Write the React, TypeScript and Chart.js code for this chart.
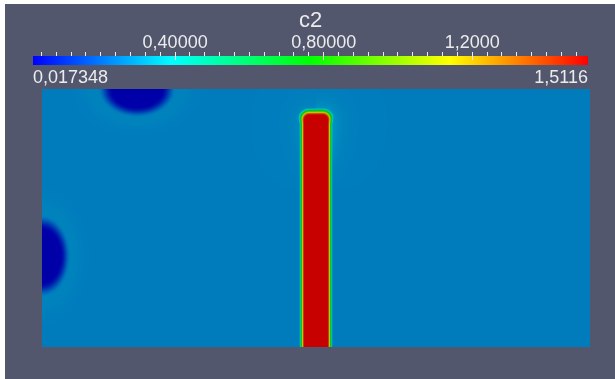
import React, { useEffect, useRef } from "react";
import { Chart, registerables } from "chart.js";

Chart.register(...registerables);

// ---------- data ----------
const TITLE = "c2";
const RANGE = [0.017348, 1.5116];
const RANGE_LABELS = ["0,017348", "1,5116"];
const MAJOR_TICKS = [0.4, 0.8, 1.2];
const MAJOR_LABELS = ["0,40000", "0,80000", "1,2000"];
const MINOR_STEP = 0.04;

// field domain (model units)
const DOMAIN_X = [0, 10.6];
const DOMAIN_Y = [0, 5];
const AMBIENT_C = 0.264;
// high-concentration column
const COLUMN_X = [5.07, 5.53];
const COLUMN_Y = [0, 4.5];
const COLUMN_C = 1.5116;
// low-concentration sinks
const SINK_X = [1.84, 0];
const SINK_Y = [5, 1.76];
const SINK_RX = [0.68, 0.5];
const SINK_RY = [0.5, 0.72];
const SINK_C = [0.017348, 0.017348];

// ---------- styles ----------
const FONT = "'Liberation Sans', Arial, sans-serif";
const TEXT = "#ececec";
const BG = "rgb(82,87,110)";

function clamp01(v: number) {
  return Math.min(1, Math.max(0, v));
}
function smooth(a: number, b: number, x: number) {
  const u = clamp01((x - a) / (b - a));
  return u * u * (3 - 2 * u);
}
function rainbow(t: number): [number, number, number] {
  t = clamp01(t);
  if (t < 0.25) return [0, 4 * t, 1];
  if (t < 0.5) return [0, 1, 1 - 4 * (t - 0.25)];
  if (t < 0.75) return [4 * (t - 0.5), 1, 0];
  return [1, 1 - 4 * (t - 0.75), 0];
}

function fieldValue(x: number, y: number) {
  let v = AMBIENT_C;
  for (let i = 0; i < SINK_X.length; i++) {
    const dx = (x - SINK_X[i]) / SINK_RX[i];
    const dy = (y - SINK_Y[i]) / SINK_RY[i];
    const r = Math.hypot(dx, dy);
    const core = 1 - smooth(0.7, 1.1, r);
    const ring = 0.012 * Math.exp(-Math.pow((r - 1.25) / 0.25, 2));
    v = v + (SINK_C[i] - AMBIENT_C) * core + ring * (1 - core);
  }
  const cx = (COLUMN_X[0] + COLUMN_X[1]) / 2;
  const hw = (COLUMN_X[1] - COLUMN_X[0]) / 2;
  const bottom = COLUMN_Y[0] - 1;
  const top = COLUMN_Y[1];
  const cy = (bottom + top) / 2;
  const hh = (top - bottom) / 2;
  const rr = 0.1;
  const qx = Math.abs(x - cx) - (hw - rr);
  const qy = Math.abs(y - cy) - (hh - rr);
  const d =
    Math.hypot(Math.max(qx, 0), Math.max(qy, 0)) +
    Math.min(Math.max(qx, qy), 0) -
    rr;
  const topness = smooth(4.3, 4.55, y);
  const s = 1 - smooth(-0.01, 0.1 + 0.04 * topness, d);
  if (d > 0) {
    const halo =
      0.08 * Math.exp(-d / 0.16) * smooth(3.0, 4.4, y) * (x > cx ? 1 : 0.5);
    v += halo;
  }
  v = v + (COLUMN_C - v) * s;
  return v;
}

const fieldPlugin = {
  id: "fieldRaster",
  beforeDatasetsDraw(chart: any) {
    const { ctx, chartArea, scales } = chart;
    const left = Math.round(chartArea.left);
    const top = Math.round(chartArea.top);
    const w = Math.round(chartArea.right) - left;
    const h = Math.round(chartArea.bottom) - top;
    const img = ctx.createImageData(w, h);
    const xs = scales.x;
    const ys = scales.y;
    const span = RANGE[1] - RANGE[0];
    for (let j = 0; j < h; j++) {
      const yv = ys.getValueForPixel(top + j + 0.5);
      for (let i = 0; i < w; i++) {
        const xv = xs.getValueForPixel(left + i + 0.5);
        const val = fieldValue(xv, yv);
        const [r, g, b] = rainbow((val - RANGE[0]) / span);
        const shade = 0.66 + 0.12 * Math.min(1, r + g);
        const k = (j * w + i) * 4;
        img.data[k] = Math.round(r * 255 * shade);
        img.data[k + 1] = Math.round(g * 255 * shade);
        img.data[k + 2] = Math.round(b * 255 * shade);
        img.data[k + 3] = 255;
      }
    }
    ctx.putImageData(img, left, top);
  },
};

const majorTickPlugin = {
  id: "majorTicks",
  afterDatasetsDraw(chart: any) {
    const { ctx, chartArea, scales } = chart;
    ctx.save();
    ctx.strokeStyle = TEXT;
    ctx.lineWidth = 1;
    MAJOR_TICKS.forEach((v) => {
      const px = Math.round(scales.x.getPixelForValue(v) - 0.5) + 0.5;
      ctx.beginPath();
      ctx.moveTo(px, chartArea.top);
      ctx.lineTo(px, chartArea.top + 4);
      ctx.stroke();
    });
    ctx.restore();
  },
};

function minorTicks() {
  const out: number[] = [];
  for (let k = 1; k * MINOR_STEP < RANGE[1]; k++) {
    const v = Math.round(k * MINOR_STEP * 1e6) / 1e6;
    if (v > RANGE[0]) out.push(v);
  }
  return out;
}

export default function App() {
  const barRef = useRef<HTMLCanvasElement>(null);
  const fieldRef = useRef<HTMLCanvasElement>(null);

  useEffect(() => {
    const tickFont = { family: FONT, size: 18, lineHeight: 1 };
    const bar = new Chart(barRef.current as HTMLCanvasElement, {
      type: "bar",
      data: {
        labels: [TITLE],
        datasets: [
          {
            data: [[RANGE[0], RANGE[1]]] as any,
            backgroundColor: (c: any) => {
              const ch = c.chart;
              if (!ch.chartArea) return "#000";
              const xs = ch.scales.x;
              const g = ch.ctx.createLinearGradient(
                xs.getPixelForValue(RANGE[0]),
                0,
                xs.getPixelForValue(RANGE[1]),
                0
              );
              [0, 0.25, 0.5, 0.75, 1].forEach((t) => {
                const [r, gg, b] = rainbow(t);
                g.addColorStop(
                  t,
                  `rgb(${Math.round(r * 255)},${Math.round(gg * 255)},${Math.round(b * 255)})`
                );
              });
              return g;
            },
            borderWidth: 0,
            barPercentage: 1,
            categoryPercentage: 1,
            xAxisID: "x",
            yAxisID: "y",
          } as any,
        ],
      },
      options: {
        indexAxis: "y",
        responsive: false,
        animation: false,
        events: [],
        layout: { padding: { left: 28, right: 27, top: 0, bottom: 0 } },
        plugins: {
          legend: { display: false },
          tooltip: { enabled: false },
          title: {
            display: true,
            text: TITLE,
            color: TEXT,
            font: { family: FONT, size: 22, weight: "normal", lineHeight: 1.2 },
            padding: { top: 4, bottom: 0 },
          },
        },
        scales: {
          x: {
            type: "linear",
            position: "top",
            min: RANGE[0],
            max: RANGE[1],
            afterBuildTicks: (s: any) => {
              s.ticks = minorTicks().map((v) => ({ value: v }));
            },
            afterFit: (s: any) => {
              s.height = 21.6;
            },
            ticks: {
              autoSkip: false,
              maxRotation: 0,
              minRotation: 0,
              padding: 0,
              color: TEXT,
              font: tickFont,
              callback: (v: any) => {
                const i = MAJOR_TICKS.findIndex((m) => Math.abs(m - v) < 1e-6);
                return i >= 0 ? MAJOR_LABELS[i] : "";
              },
            },
            grid: {
              drawOnChartArea: false,
              drawTicks: true,
              tickLength: 4,
              tickColor: TEXT,
              tickWidth: 1,
            },
            border: { display: false },
          },
          x2: {
            type: "linear",
            axis: "x",
            position: "bottom",
            min: RANGE[0],
            max: RANGE[1],
            afterBuildTicks: (s: any) => {
              s.ticks = RANGE.map((v) => ({ value: v }));
            },
            afterFit: (s: any) => {
              s.height = 23;
            },
            ticks: {
              autoSkip: false,
              align: "inner",
              maxRotation: 0,
              minRotation: 0,
              padding: 4,
              color: TEXT,
              font: tickFont,
              callback: (_v: any, i: number) => RANGE_LABELS[i],
            },
            grid: { display: false, drawTicks: false, tickLength: 0 },
            border: { display: false },
          },
          y: { display: false },
        },
      } as any,
      plugins: [majorTickPlugin],
    });

    const field = new Chart(fieldRef.current as HTMLCanvasElement, {
      type: "scatter",
      data: { datasets: [] },
      options: {
        responsive: false,
        animation: false,
        events: [],
        layout: { padding: 0 },
        plugins: { legend: { display: false }, tooltip: { enabled: false } },
        scales: {
          x: { type: "linear", min: DOMAIN_X[0], max: DOMAIN_X[1], display: false },
          y: { type: "linear", min: DOMAIN_Y[0], max: DOMAIN_Y[1], display: false },
        },
      } as any,
      plugins: [fieldPlugin],
    });

    return () => {
      bar.destroy();
      field.destroy();
    };
  }, []);

  return (
    <div
      style={{
        position: "fixed",
        left: 0,
        top: 0,
        width: 615,
        height: 379,
        background: "#ffffff",
        overflow: "hidden",
      }}
    >
      <div
        style={{
          position: "absolute",
          left: 5,
          top: 4,
          width: 610,
          height: 375,
          background: BG,
        }}
      />
      <canvas
        ref={barRef}
        width={610}
        height={84}
        style={{ position: "absolute", left: 5, top: 4, width: 610, height: 84 }}
      />
      <canvas
        ref={fieldRef}
        width={548}
        height={258}
        style={{ position: "absolute", left: 42, top: 89, width: 548, height: 258 }}
      />
    </div>
  );
}
